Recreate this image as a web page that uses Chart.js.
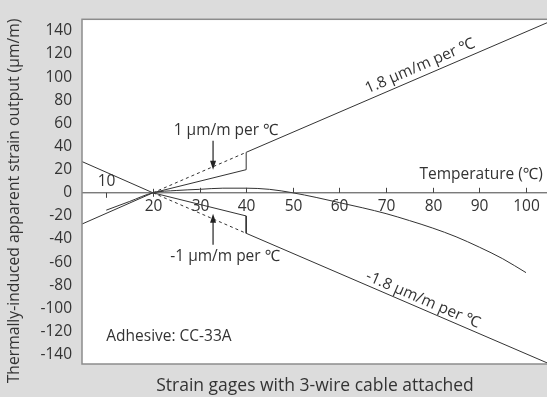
<!DOCTYPE html>
<html lang="en">
<head>
  <meta charset="UTF-8">
  <title>Apparent strain vs temperature</title>
  <script src="https://cdn.jsdelivr.net/npm/chart.js"></script>
  <style>
    html, body { margin: 0; padding: 0; background: #dcdcdc; }
    #wrap { position: relative; width: 547px; height: 397px; }
  </style>
</head>
<body>
  <div id="wrap"><canvas id="chart"></canvas></div>
  <script>
    // axis ticks
    const xTicks = [10, 20, 30, 40, 50, 60, 70, 80, 90, 100];
    const yTicks = [-140, -120, -100, -80, -60, -40, -20, 0, 20, 40, 60, 80, 100, 120, 140];

    // apparent strain curve
    const curveTemp = [10, 15, 20, 25, 30, 35, 40, 45, 50, 55, 60, 65, 70, 75, 80, 85, 90, 95, 100];
    const curveStrain = [-15, -7.5, 0, 2, 3, 4, 4, 3, 0, -4, -8.5, -13, -18, -24, -30.5, -38, -47, -57, -69];

    // +1.8 / +1 envelope
    const upperTemp = [4.8, 20, 40, 40, 104.5];
    const upperStrain = [-27, 0, 20, 35, 147];
    const upperDashTemp = [20, 40];
    const upperDashStrain = [0, 35];

    // -1.8 / -1 envelope
    const lowerTemp = [4.8, 20, 40, 40, 104.5];
    const lowerStrain = [27, 0, -20, -35, -147];
    const lowerDashTemp = [20, 40];
    const lowerDashStrain = [0, -35];

    const ink = '#333333';
    const font = '"Open Sans", "Noto Sans", sans-serif';
    const labelSize = 15.5;

    function pts(xs, ys) {
      return xs.map((x, i) => ({ x: x, y: ys[i] }));
    }

    const plotDecor = {
      id: 'plotDecor',
      beforeDraw(chart) {
        const a = chart.chartArea;
        const ctx = chart.ctx;
        ctx.save();
        ctx.fillStyle = '#ffffff';
        ctx.fillRect(a.left, a.top, a.right - a.left, a.bottom - a.top);
        ctx.restore();
      },
      afterDatasetsDraw(chart) {
        const a = chart.chartArea;
        const ctx = chart.ctx;
        const xs = chart.scales.x;
        const ys = chart.scales.y;
        const y0 = ys.getPixelForValue(0);
        ctx.save();

        // x axis along zero
        ctx.strokeStyle = '#444';
        ctx.lineWidth = 1;
        ctx.beginPath();
        ctx.moveTo(a.left, y0);
        ctx.lineTo(a.right, y0);
        ctx.stroke();

        ctx.fillStyle = ink;
        ctx.font = labelSize + 'px ' + font;
        ctx.textAlign = 'center';
        ctx.textBaseline = 'middle';
        xTicks.forEach(t => {
          const px = Math.round(xs.getPixelForValue(t)) + 0.5;
          ctx.beginPath();
          if (t === 10) {
            ctx.moveTo(px, y0); ctx.lineTo(px, y0 + 5);
          } else if (t === 20) {
            ctx.moveTo(px, y0 - 4); ctx.lineTo(px, y0 + 4);
          } else {
            ctx.moveTo(px, y0 - 5); ctx.lineTo(px, y0);
          }
          ctx.stroke();
          if (t === 10) ctx.fillText(String(t), px, y0 - 11);
          else ctx.fillText(String(t), px, y0 + 14);
        });

        // captions inside the plot
        ctx.textAlign = 'right';
        ctx.fillText('Temperature (℃)', xs.getPixelForValue(103.6), ys.getPixelForValue(16));
        ctx.textAlign = 'left';
        ctx.fillText('Adhesive: CC-33A', xs.getPixelForValue(10), ys.getPixelForValue(-124.5));

        ctx.textAlign = 'center';
        ctx.fillText('1 μm/m per ℃', xs.getPixelForValue(35.7), ys.getPixelForValue(53.5));
        ctx.fillText('-1 μm/m per ℃', xs.getPixelForValue(35.5), ys.getPixelForValue(-54.8));

        // arrows
        function arrow(xv, fromV, toV) {
          const px = xs.getPixelForValue(xv);
          const p1 = ys.getPixelForValue(fromV);
          const p2 = ys.getPixelForValue(toV);
          const dir = p2 > p1 ? 1 : -1;
          ctx.strokeStyle = '#222';
          ctx.lineWidth = 1.2;
          ctx.beginPath();
          ctx.moveTo(px, p1);
          ctx.lineTo(px, p2 - dir * 6);
          ctx.stroke();
          ctx.fillStyle = '#222';
          ctx.beginPath();
          ctx.moveTo(px, p2);
          ctx.lineTo(px - 3, p2 - dir * 9);
          ctx.lineTo(px + 3, p2 - dir * 9);
          ctx.closePath();
          ctx.fill();
        }
        arrow(32.9, 45, 20);
        arrow(32.9, -45, -18);

        // labels along the 1.8 lines
        ctx.fillStyle = ink;
        function slopeLabel(text, xv, yv, x1, y1, x2, y2) {
          const ang = Math.atan2(ys.getPixelForValue(y2) - ys.getPixelForValue(y1),
                                 xs.getPixelForValue(x2) - xs.getPixelForValue(x1));
          ctx.save();
          ctx.translate(xs.getPixelForValue(xv), ys.getPixelForValue(yv));
          ctx.rotate(ang);
          ctx.textAlign = 'center';
          ctx.textBaseline = 'middle';
          ctx.fillText(text, 0, 0);
          ctx.restore();
        }
        slopeLabel('1.8 μm/m per ℃', 77.3, 109.5, 40, 35, 104.5, 147);
        slopeLabel('-1.8 μm/m per ℃', 77.9, -92.5, 40, -35, 104.5, -147);

        // plot frame
        ctx.strokeStyle = '#8c8c8c';
        ctx.lineWidth = 1.5;
        ctx.strokeRect(a.left, a.top, a.right - a.left + 2, a.bottom - a.top);

        ctx.restore();
      },
      afterDraw(chart) {
        const ctx = chart.ctx;
        ctx.save();
        ctx.fillStyle = ink;
        ctx.textAlign = 'center';
        ctx.textBaseline = 'middle';
        ctx.font = '17.5px ' + font;
        ctx.fillText('Strain gages with 3-wire cable attached', 315, 386);
        ctx.translate(15, 201);
        ctx.rotate(-Math.PI / 2);
        ctx.font = '15.7px ' + font;
        ctx.fillText('Thermally-induced apparent strain output (µm/m)', 0, 0);
        ctx.restore();
      }
    };

    const lineStyle = { showLine: true, borderColor: ink, borderWidth: 1, pointRadius: 0, fill: false };

    new Chart(document.getElementById('chart'), {
      type: 'scatter',
      data: {
        datasets: [
          Object.assign({ label: 'Apparent strain', data: pts(curveTemp, curveStrain), tension: 0.4, cubicInterpolationMode: 'monotone' }, lineStyle),
          Object.assign({ label: '+1.8 / +1', data: pts(upperTemp, upperStrain) }, lineStyle),
          Object.assign({ label: '-1.8 / -1', data: pts(lowerTemp, lowerStrain) }, lineStyle),
          Object.assign({ label: '+1.8 dashed', data: pts(upperDashTemp, upperDashStrain), borderDash: [3, 3] }, lineStyle),
          Object.assign({ label: '-1.8 dashed', data: pts(lowerDashTemp, lowerDashStrain), borderDash: [3, 3] }, lineStyle)
        ]
      },
      options: {
        responsive: true,
        maintainAspectRatio: false,
        animation: false,
        layout: { padding: { top: 8, right: 0, bottom: 33, left: 0 } },
        plugins: { legend: { display: false }, tooltip: { enabled: false } },
        scales: {
          x: { type: 'linear', min: 4.8, max: 104.5, display: false },
          y: {
            type: 'linear', min: -148, max: 150,
            afterBuildTicks: s => { s.ticks = yTicks.map(v => ({ value: v })); },
            afterFit: s => { s.width = 82; },
            grid: { display: false, drawTicks: false },
            border: { display: false },
            ticks: { padding: 10, color: ink, font: { family: font, size: labelSize } }
          }
        }
      },
      plugins: [plotDecor]
    });
  </script>
</body>
</html>
